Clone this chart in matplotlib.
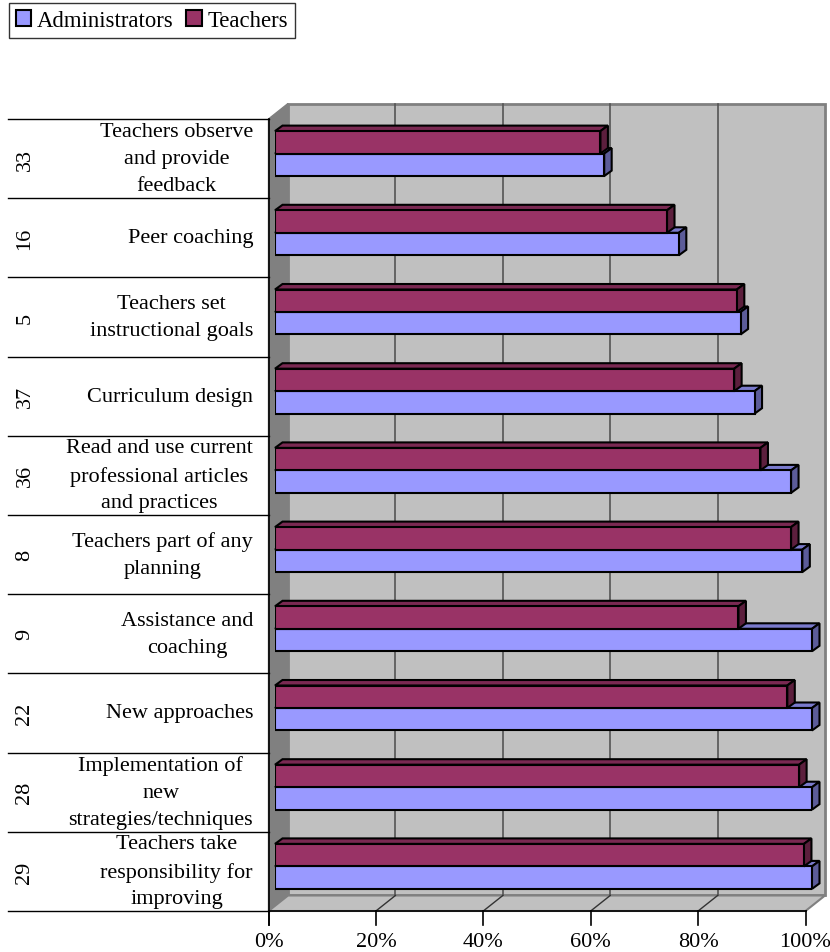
import matplotlib
matplotlib.use("Agg")
import matplotlib.pyplot as plt
import matplotlib.transforms as mtransforms
from matplotlib.patches import Polygon, Patch
from matplotlib.lines import Line2D

plt.rcParams['font.family'] = ['Liberation Serif', 'DejaVu Serif']

# ---- data -------------------------------------------------------------
item_numbers = ["33", "16", "5", "37", "36", "8", "9", "22", "28", "29"]
categories = [
    "Teachers observe\nand provide\nfeedback",
    "Peer coaching",
    "Teachers set\ninstructional goals",
    "Curriculum design",
    "Read and use current\nprofessional articles\nand practices",
    "Teachers part of any\nplanning",
    "Assistance and\ncoaching",
    "New approaches",
    "Implementation of\nnew\nstrategies/techniques",
    "Teachers take\nresponsibility for\nimproving",
]
administrators = [61.3, 75.2, 86.7, 89.3, 96.1, 98.2, 100.0, 100.0, 100.0, 100.0]
teachers = [60.6, 73.0, 86.0, 85.5, 90.4, 96.1, 86.3, 95.4, 97.6, 98.5]
x_ticks = [0, 20, 40, 60, 80, 100]
x_tick_labels = ["0%", "20%", "40%", "60%", "80%", "100%"]
series_names = ["Administrators", "Teachers"]

# ---- styling ----------------------------------------------------------
ADMIN_C = ["#9999FF", "#7A7ACC", "#5C5C99"]      # front, top, side
TEACH_C = ["#993366", "#7A2952", "#5C1F3D"]
WALL_C = "#C0C0C0"
SIDE_WALL_C = "#808080"
EDGE_C = "#808080"
GRID_C = "#555555"

FRONT = (-6.5, -5.0)     # pixel offset of the front (axis) plane
BACK = (13.0, 10.5)      # pixel offset of the back wall plane
DEPTH = (7.5, 5.5)       # pixel depth of each bar
BAR_H = 0.284

W, H, DPI = 830, 953, 100
fig = plt.figure(figsize=(W / DPI, H / DPI), dpi=DPI)
fig.patch.set_facecolor("white")
ax = fig.add_axes([275 / W, 46 / H, 537 / W, 792 / H])
n = len(categories)
ax.set_xlim(0, 100)
ax.set_ylim(n - 0.5, -0.5)
ax.set_axis_off()

ident = mtransforms.IdentityTransform()


def pt(x, y, off=(0.0, 0.0)):
    px, py = ax.transData.transform((x, y))
    return (px + off[0], py + off[1])


def add_poly(points, fc, ec, lw, z):
    ax.add_patch(Polygon(points, closed=True, facecolor=fc, edgecolor=ec,
                         linewidth=lw, transform=ident, clip_on=False,
                         zorder=z, joinstyle="miter"))


def add_line(p0, p1, color, lw, z):
    ax.add_line(Line2D([p0[0], p1[0]], [p0[1], p1[1]], color=color,
                       linewidth=lw, transform=ident, clip_on=False,
                       zorder=z))


top_y, bot_y = -0.5, n - 0.5

# back wall
add_poly([pt(0, top_y, BACK), pt(100, top_y, BACK), pt(100, bot_y, BACK),
          pt(0, bot_y, BACK)], WALL_C, EDGE_C, 2.0, 0.5)
# side wall
add_poly([pt(0, top_y, FRONT), pt(0, top_y, BACK), pt(0, bot_y, BACK),
          pt(0, bot_y, FRONT)], SIDE_WALL_C, EDGE_C, 1.0, 0.6)
# floor
add_poly([pt(0, bot_y, FRONT), pt(100, bot_y, FRONT), pt(100, bot_y, BACK),
          pt(0, bot_y, BACK)], WALL_C, EDGE_C, 1.5, 0.6)

# gridlines on the back wall and across the floor
for v in x_ticks[1:-1]:
    add_line(pt(v, top_y, BACK), pt(v, bot_y, BACK), GRID_C, 1.2, 0.8)
    add_line(pt(v, bot_y, BACK), pt(v, bot_y, FRONT), "#333333", 1.0, 0.8)


# 3-D bars
def draw_bars(values, offset, colors, z):
    ys = [i + offset for i in range(n)]
    for yc, v in zip(ys, values):
        yt, yb = yc - BAR_H / 2, yc + BAR_H / 2
        add_poly([pt(0, yt), pt(v, yt), pt(v, yt, DEPTH), pt(0, yt, DEPTH)],
                 colors[1], "black", 1.5, z)
        add_poly([pt(v, yt), pt(v, yb), pt(v, yb, DEPTH), pt(v, yt, DEPTH)],
                 colors[2], "black", 1.5, z)
    ax.barh(ys, values, height=BAR_H, color=colors[0], edgecolor="black",
            linewidth=1.5, zorder=z + 0.1)


draw_bars(administrators, BAR_H / 2, ADMIN_C, 3)
draw_bars(teachers, -BAR_H / 2, TEACH_C, 4)

# front axes
TICK = 14
p_top = pt(0, top_y, FRONT)
p_org = pt(0, bot_y, FRONT)
add_line(p_top, (p_org[0], p_org[1] - TICK), "black", 1.2, 6)
add_line(p_org, pt(100, bot_y, FRONT), "black", 1.2, 6)
for v, lab in zip(x_ticks, x_tick_labels):
    p = pt(v, bot_y, FRONT)
    add_line(p, (p[0], p[1] - TICK), "black", 1.2, 6)
    ax.text(p[0], p[1] - 31, lab, transform=ident, ha="center", va="center",
            fontsize=16, clip_on=False)

# category table: boundary lines, item numbers and descriptions
for k in range(n + 1):
    p = pt(0, k - 0.5, FRONT)
    add_line((8, p[1]), p, "black", 1.0, 6)
for i, (num, cat) in enumerate(zip(item_numbers, categories)):
    p = pt(0, i, FRONT)
    ax.text(25, p[1], num, transform=ident, rotation=90, ha="center",
            va="center", fontsize=16, clip_on=False)
    ax.text(253, p[1], cat, transform=ident, ha="right", va="center",
            multialignment="center", fontsize=16, linespacing=1.55,
            clip_on=False)

# legend
handles = [Patch(facecolor=ADMIN_C[0], edgecolor="black", linewidth=1.5),
           Patch(facecolor=TEACH_C[0], edgecolor="black", linewidth=1.5)]
leg = fig.legend(handles, series_names, loc="upper left",
                 bbox_to_anchor=(9 / W, 1 - 4 / H), borderaxespad=0,
                 ncol=2, fontsize=16.4, frameon=True, fancybox=False,
                 handlelength=0.68, handleheight=0.68, handletextpad=0.25,
                 columnspacing=0.55, borderpad=0.3)
leg.get_frame().set_edgecolor("black")
leg.get_frame().set_linewidth(1.0)

fig.savefig("out.png", dpi=DPI, facecolor="white")
